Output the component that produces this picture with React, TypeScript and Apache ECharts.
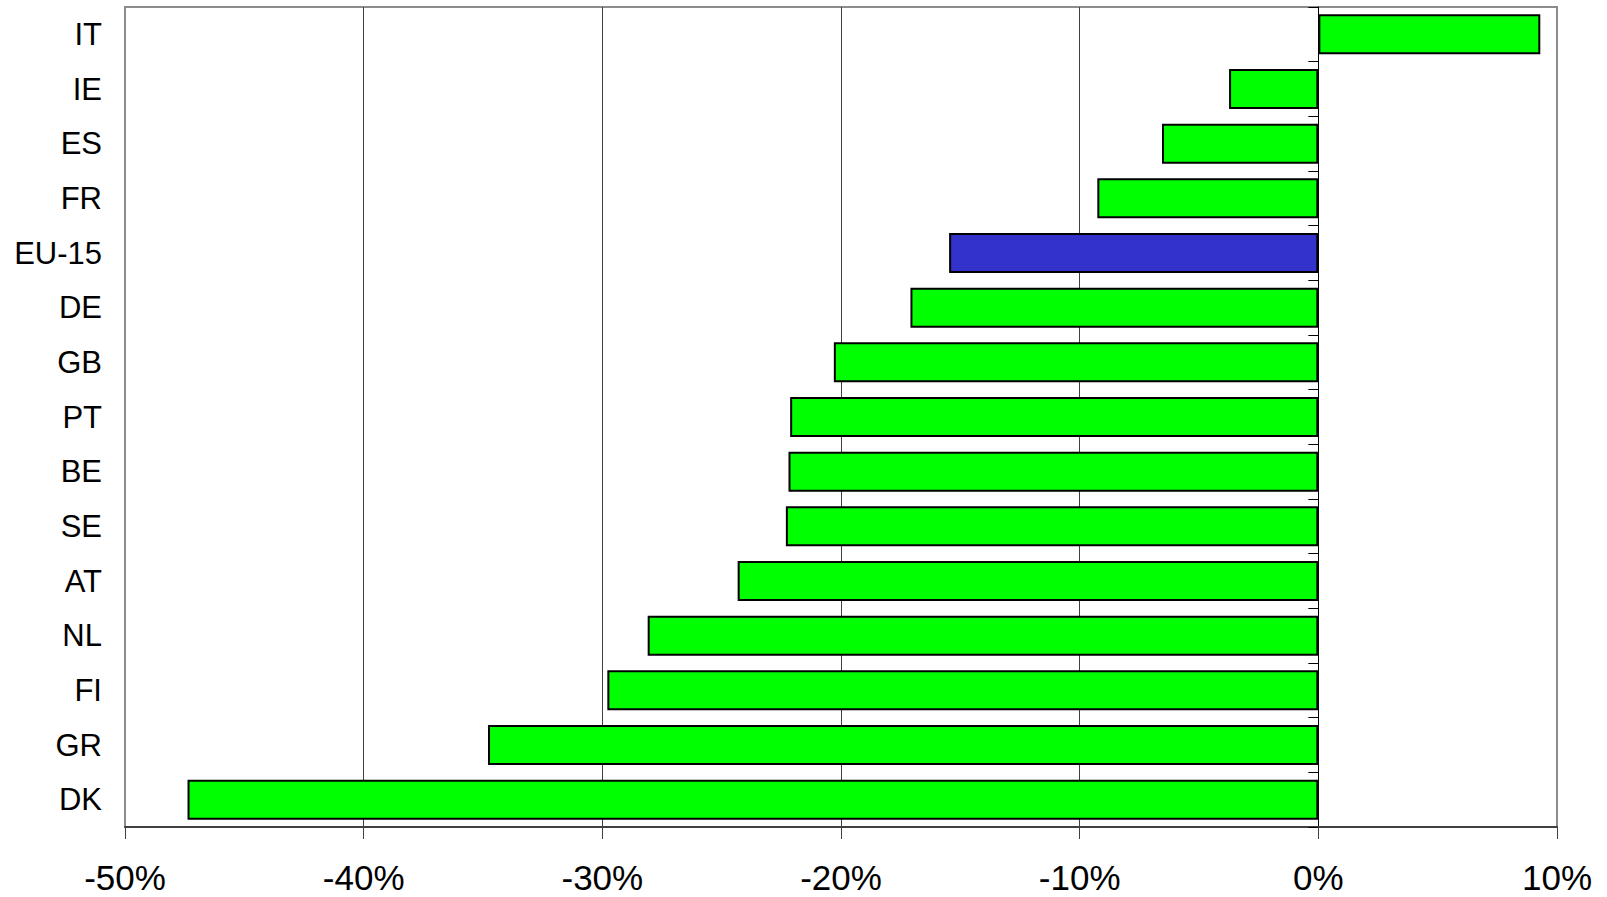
import React, { useEffect, useRef } from "react";
import * as echarts from "echarts";

const categories = ["IT", "IE", "ES", "FR", "EU-15", "DE", "GB", "PT", "BE", "SE", "AT", "NL", "FI", "GR", "DK"];
const values = [9.3, -3.74, -6.55, -9.26, -15.47, -17.09, -20.3, -22.13, -22.2, -22.31, -24.33, -28.1, -29.79, -34.79, -47.38];
const highlightCategory = "EU-15";
const xMin = -50;
const xMax = 10;
const xStep = 10;

const FONT = "'Liberation Sans', Arial, sans-serif";

export default function App() {
  const ref = useRef<HTMLDivElement>(null);

  useEffect(() => {
    if (!ref.current) return;
    const chart = echarts.init(ref.current, undefined, { renderer: "svg" });
    const gridLineColors = ["#8c8c8c", "#404040", "#404040", "#404040", "#404040", "#404040", "#8c8c8c"];
    chart.setOption({
      animation: false,
      backgroundColor: "#ffffff",
      grid: {
        left: 125,
        right: 50,
        top: 7,
        bottom: 70,
        show: true,
        borderColor: "#8c8c8c",
        borderWidth: 2,
        containLabel: false,
      },
      xAxis: {
        type: "value",
        min: xMin,
        max: xMax,
        interval: xStep,
        axisLine: { show: true, onZero: false, lineStyle: { color: "#404040", width: 2 } },
        axisTick: { show: true, length: 12, lineStyle: { color: "#404040", width: 1 } },
        axisLabel: {
          formatter: (v: number) => `${v}%`,
          fontSize: 35,
          color: "#000",
          fontFamily: FONT,
          margin: 33,
        },
        splitLine: { show: true, lineStyle: { color: gridLineColors, width: 1 } },
      },
      yAxis: [
        {
          type: "category",
          data: categories,
          inverse: true,
          position: "left",
          axisLine: { show: false, onZero: false },
          axisTick: { show: false },
          axisLabel: { fontSize: 31, color: "#000", fontFamily: FONT, margin: 23 },
          splitLine: { show: false },
        },
        {
          type: "category",
          data: categories,
          inverse: true,
          position: "left",
          axisLine: { show: true, onZero: true, lineStyle: { color: "#000", width: 1 } },
          axisTick: { show: true, length: 10, lineStyle: { color: "#000", width: 1 } },
          axisLabel: { show: false },
          splitLine: { show: false },
        },
      ],
      series: [
        {
          type: "bar",
          yAxisIndex: 0,
          barWidth: 40,
          data: values.map((v, i) => ({
            value: v,
            itemStyle: {
              color: categories[i] === highlightCategory ? "#3333cc" : "#00ff00",
              borderColor: "#000",
              borderWidth: 2,
            },
          })),
        },
      ],
    });
    return () => chart.dispose();
  }, []);

  return (
    <div
      ref={ref}
      style={{ position: "fixed", left: 0, top: 0, width: 1607, height: 897, background: "#fff" }}
    />
  );
}
